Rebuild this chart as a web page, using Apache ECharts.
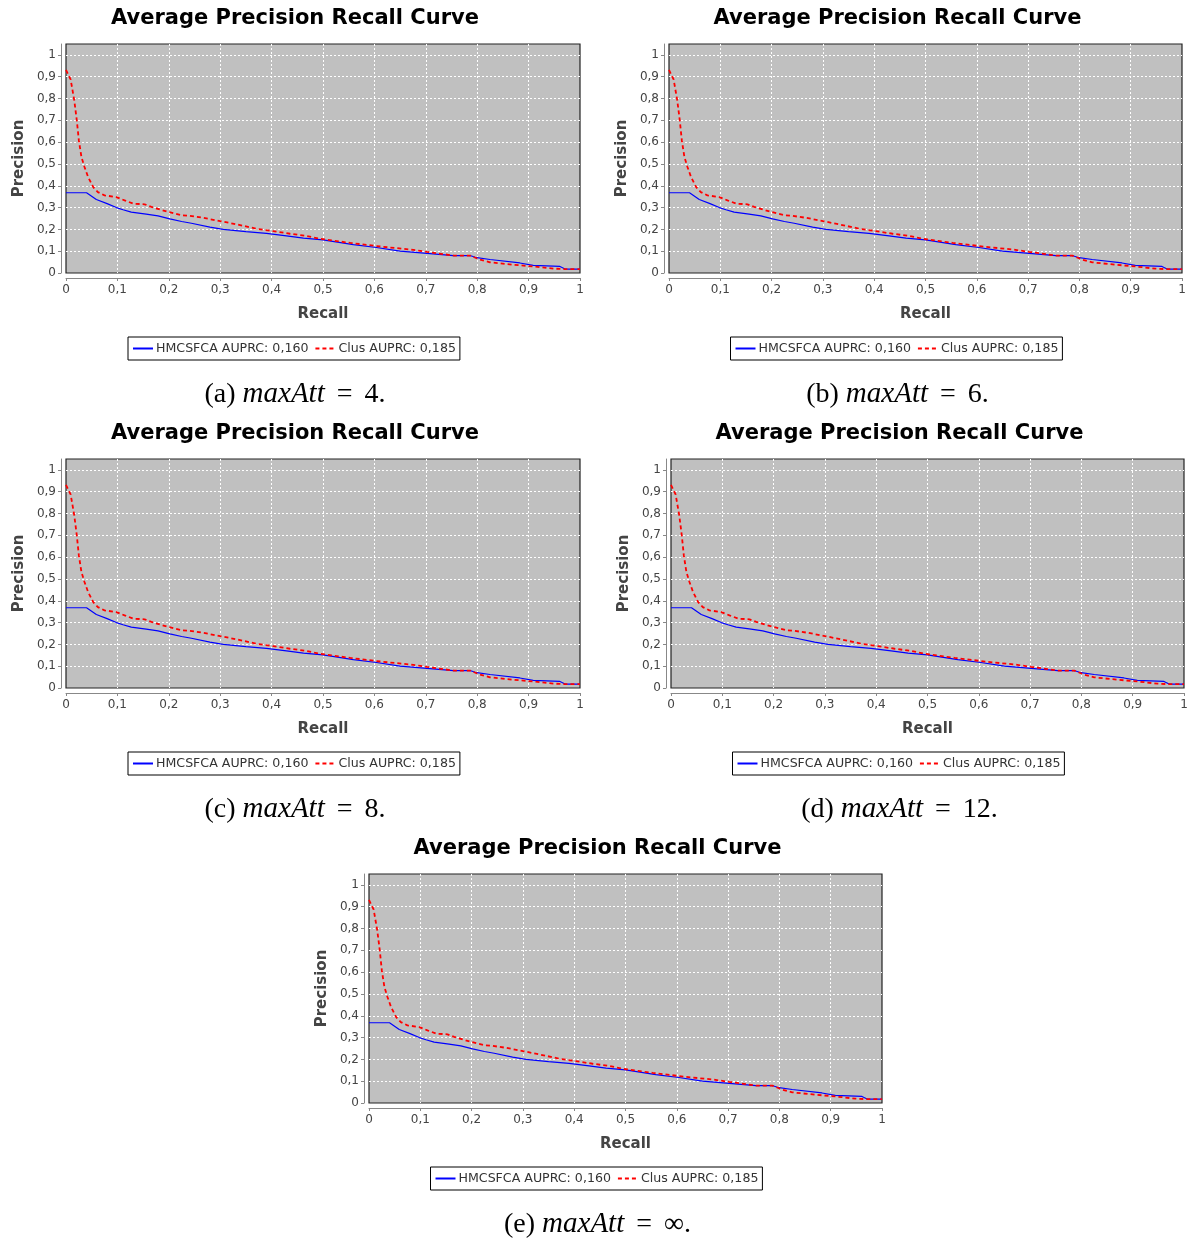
<!DOCTYPE html>
<html>
<head>
<meta charset="utf-8">
<script src="https://cdn.jsdelivr.net/npm/echarts@6/dist/echarts.min.js"></script>
<style>
html, body { margin: 0; padding: 0; background: #fff; }
#main { width: 1197px; height: 1244px; }
</style>
</head>
<body>
<div id="main"></div>
<script>
// curves (the five panels show the same curves)
var hmcRecall = [0, 0.04, 0.059, 0.08, 0.098, 0.111, 0.127, 0.156, 0.179, 0.202, 0.225, 0.244, 0.28, 0.306, 0.35, 0.39, 0.429, 0.462, 0.5, 0.559, 0.604, 0.65, 0.702, 0.754, 0.786, 0.796, 0.825, 0.883, 0.909, 0.961, 0.971, 1];
var hmcPrecision = [0.368, 0.368, 0.337, 0.318, 0.3, 0.29, 0.279, 0.27, 0.262, 0.248, 0.236, 0.228, 0.21, 0.2, 0.19, 0.182, 0.17, 0.16, 0.152, 0.13, 0.117, 0.1, 0.09, 0.08, 0.08, 0.072, 0.062, 0.046, 0.035, 0.03, 0.018, 0.018];
var clusRecall = [0, 0.009, 0.016, 0.021, 0.025, 0.03, 0.036, 0.043, 0.053, 0.062, 0.075, 0.098, 0.114, 0.131, 0.153, 0.166, 0.199, 0.225, 0.241, 0.267, 0.3, 0.332, 0.371, 0.403, 0.436, 0.468, 0.494, 0.553, 0.617, 0.669, 0.702, 0.754, 0.786, 0.805, 0.825, 0.87, 0.909, 0.948, 0.968, 1];
var clusPrecision = [0.931, 0.888, 0.793, 0.7, 0.608, 0.532, 0.486, 0.44, 0.394, 0.371, 0.356, 0.348, 0.333, 0.318, 0.315, 0.303, 0.28, 0.265, 0.262, 0.253, 0.238, 0.223, 0.203, 0.192, 0.18, 0.17, 0.157, 0.138, 0.12, 0.108, 0.097, 0.08, 0.08, 0.062, 0.049, 0.038, 0.03, 0.02, 0.018, 0.018];

var seriesNames = ['HMCSFCA AUPRC: 0,160', 'Clus AUPRC: 0,185'];
var panelLetters = ['a', 'b', 'c', 'd', 'e'];
var maxAttValues = ['4', '6', '8', '12', '\u221e'];
var chartTitle = 'Average Precision Recall Curve';

// plot boxes in page pixels
var panels = [
  {left: 66, top: 44, width: 514},
  {left: 669, top: 44, width: 513},
  {left: 66, top: 459, width: 514},
  {left: 671, top: 459, width: 513},
  {left: 369, top: 874, width: 513}
];
var plotHeight = 229;

function zip(xs, ys) {
  return xs.map(function (x, i) { return [x, ys[i]]; });
}
function commaFmt(v) {
  if (v > 1.0001) return '';
  return String(Math.round(v * 10) / 10).replace('.', ',');
}

var font = 'DejaVu Sans';
var option = {
  animation: false,
  backgroundColor: '#fff',
  title: [], grid: [], xAxis: [], yAxis: [], legend: [], series: []
};

panels.forEach(function (p, i) {
  var cx = p.left + p.width / 2 - 28;
  option.title.push({
    text: chartTitle,
    left: cx, top: p.top - 36, textAlign: 'center', padding: 0,
    textStyle: { fontFamily: font, fontWeight: 'bold', fontSize: 21, color: '#000' }
  });
  option.title.push({
    text: '{t|(' + panelLetters[i] + ')} {i|maxAtt}{s| = }{t|' + maxAttValues[i] + '.}',
    left: cx, top: p.top + 336, textAlign: 'center', padding: 0,
    textStyle: {
      fontFamily: 'Liberation Serif', fontSize: 28, color: '#000', fontWeight: 'normal',
      rich: {
        t: { fontFamily: 'Liberation Serif', fontSize: 28, color: '#000' },
        i: { fontFamily: 'Liberation Serif', fontStyle: 'italic', fontSize: 29, color: '#000' },
        s: { fontFamily: 'Liberation Serif', fontSize: 28, color: '#000', padding: [0, 5] }
      }
    }
  });
  option.grid.push({
    left: p.left, top: p.top, width: p.width, height: plotHeight,
    show: true, backgroundColor: '#c0c0c0', borderColor: '#222', borderWidth: 1.2
  });
  option.xAxis.push({
    gridIndex: i, type: 'value', min: 0, max: 1, interval: 0.1,
    offset: 5,
    name: 'Recall', nameLocation: 'middle', nameGap: 29,
    nameTextStyle: { fontFamily: font, fontWeight: 'bold', fontSize: 15, color: '#444' },
    axisLine: { show: true, onZero: false, lineStyle: { color: '#888', width: 1 } },
    axisTick: { show: true, length: 3, lineStyle: { color: '#888' } },
    axisLabel: { fontFamily: font, fontSize: 12, color: '#444', margin: 6, formatter: commaFmt },
    splitLine: { show: true, showMinLine: false, showMaxLine: false, lineStyle: { color: '#fff', type: [2, 2], width: 1 } }
  });
  option.yAxis.push({
    gridIndex: i, type: 'value', min: 0, max: 1.05, interval: 0.1,
    offset: 5,
    name: 'Precision', nameLocation: 'middle', nameGap: 34, nameRotate: 90,
    nameTextStyle: { fontFamily: font, fontWeight: 'bold', fontSize: 15, color: '#444' },
    axisLine: { show: true, onZero: false, lineStyle: { color: '#888', width: 1 } },
    axisTick: { show: true, length: 3, lineStyle: { color: '#888' } },
    axisLabel: { fontFamily: font, fontSize: 12, color: '#444', margin: 5, formatter: commaFmt, showMaxLabel: false },
    splitLine: { show: true, showMinLine: false, showMaxLine: false, lineStyle: { color: '#fff', type: [2, 2], width: 1 } }
  });
  option.legend.push({
    data: seriesNames,
    left: cx - 167, top: p.top + 293,
    orient: 'horizontal',
    padding: [5, 4], itemGap: 6, itemWidth: 20, itemHeight: 12,
    borderColor: '#000', borderWidth: 1, backgroundColor: '#fff',
    selectedMode: false,
    itemStyle: { opacity: 0 },
    textStyle: { fontFamily: font, fontSize: 12.6, color: '#333', padding: [0, 0, 0, -2] }
  });
  option.series.push({
    name: seriesNames[0], type: 'line', xAxisIndex: i, yAxisIndex: i,
    data: zip(hmcRecall, hmcPrecision), symbol: 'none', z: 3,
    lineStyle: { color: '#0000ff', width: 1.2 }, itemStyle: { color: '#0000ff' }
  });
  option.series.push({
    name: seriesNames[1], type: 'line', xAxisIndex: i, yAxisIndex: i,
    data: zip(clusRecall, clusPrecision), symbol: 'none', z: 4,
    lineStyle: { color: '#ff0000', width: 1.8, type: [4, 3] }, itemStyle: { color: '#ff0000' }
  });
});

var chart = echarts.init(document.getElementById('main'), null, { renderer: 'canvas' });
chart.setOption(option);
</script>
</body>
</html>
